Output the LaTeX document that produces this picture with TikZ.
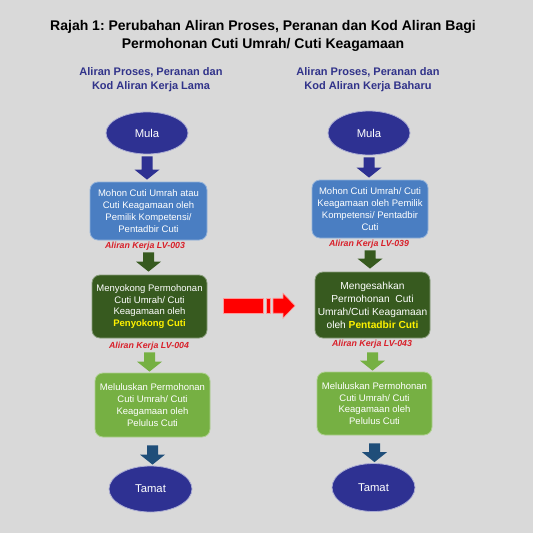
\documentclass[tikz,border=0pt]{standalone}
\usepackage{fontspec}
\setmainfont{Liberation Sans}
\usetikzlibrary{shapes.geometric,calc}
\frenchspacing
\definecolor{bg}{HTML}{D9D9D9}
\definecolor{navy}{HTML}{2E3192}
\definecolor{subblue}{HTML}{31338A}
\definecolor{boxblue}{HTML}{4A7EC2}
\definecolor{darkgreen}{HTML}{375A1F}
\definecolor{litegreen}{HTML}{76B043}
\definecolor{teal}{HTML}{1F4E79}
\definecolor{lblred}{HTML}{D8202A}
\tikzset{
  ov/.style={ellipse, fill=navy, draw=navy!40!white, line width=0.8pt, text=white, font=\fontsize{11.3}{13}\selectfont, inner sep=0pt},
  bx/.style={rounded corners=8pt, line width=0.8pt, text=white, align=center, inner sep=0pt, font=\fontsize{9.5}{11.8}\selectfont},
  lbl/.style={text=lblred, font=\fontsize{8.8}{10}\selectfont\bfseries\itshape, inner sep=0pt},
  sub/.style={text=subblue, align=center, font=\fontsize{11}{14}\selectfont\bfseries, inner sep=0pt},
}
\newcommand\barrow[5]{% color, from, to, startgap, endgap
  \fill[#1] let \p1=(#2.south), \p2=(#3.north) in
    (\x1-5.5pt,\y1-#4pt) -- (\x1+5.5pt,\y1-#4pt) -- (\x1+5.5pt,\y2+#5pt+10pt)
    -- (\x1+12.5pt,\y2+#5pt+10pt) -- (\x1,\y2+#5pt) -- (\x1-12.5pt,\y2+#5pt+10pt)
    -- (\x1-5.5pt,\y2+#5pt+10pt) -- cycle;}
\begin{document}
\begin{tikzpicture}[x=1pt,y=-1pt]
\fill[bg] (0,0) rectangle (533,533);
\useasboundingbox (0,0) rectangle (533,533);
\node[align=center, font=\fontsize{14}{18}\selectfont\bfseries, inner sep=0pt] (title) at (263,35.5)
  {Rajah 1: Perubahan Aliran Proses, Peranan dan Kod Aliran Bagi\\Permohonan Cuti Umrah/ Cuti Keagamaan};
\node[sub] (subL) at (151,80) {Aliran Proses, Peranan dan\\Kod Aliran Kerja Lama};
\node[sub] (subR) at (368,80) {Aliran Proses, Peranan dan\\Kod Aliran Kerja Baharu};
% left column
\node[ov, minimum width=82pt, minimum height=42pt] (mulaL) at (147,133) {Mula};
\node[bx, fill=boxblue, draw=boxblue!60!white, minimum width=117pt, minimum height=58pt] (b1L) at (148.5,211)
  {Mohon Cuti Umrah atau\\Cuti Keagamaan oleh\\Pemilik Kompetensi/\\Pentadbir Cuti};
\node[lbl] (l1L) at (145,246) {Aliran Kerja LV-003};
\node[bx, fill=darkgreen, draw=darkgreen!60!white, minimum width=115pt, minimum height=63pt] (b2L) at (149.5,306.5)
  {Menyokong Permohonan\\Cuti Umrah/ Cuti\\Keagamaan oleh\\\textcolor{yellow}{\bfseries Penyokong Cuti}};
\node[lbl] (l2L) at (149,346) {Aliran Kerja LV-004};
\node[bx, fill=litegreen, draw=litegreen!60!white, minimum width=115pt, minimum height=64pt] (b3L) at (152.5,405)
  {Meluluskan Permohonan\\Cuti Umrah/ Cuti\\Keagamaan oleh\\Pelulus Cuti};
\node[ov, minimum width=83pt, minimum height=46pt] (tamatL) at (150.5,489) {Tamat};
% right column
\node[ov, minimum width=82pt, minimum height=44pt] (mulaR) at (369,133) {Mula};
\node[bx, fill=boxblue, draw=boxblue!60!white, minimum width=116pt, minimum height=58pt] (b1R) at (370,209)
  {Mohon Cuti Umrah/ Cuti\\Keagamaan oleh Pemilik\\Kompetensi/ Pentadbir\\Cuti};
\node[lbl] (l1R) at (369,244) {Aliran Kerja LV-039};
\node[bx, fill=darkgreen, draw=darkgreen!60!white, minimum width=115pt, minimum height=66pt, font=\fontsize{10.2}{13}\selectfont] (b2R) at (372.5,305)
  {Mengesahkan\\Permohonan\ \ Cuti\\Umrah/Cuti Keagamaan\\oleh\ \textcolor{yellow}{\bfseries Pentadbir Cuti}};
\node[lbl] (l2R) at (372,344) {Aliran Kerja LV-043};
\node[bx, fill=litegreen, draw=litegreen!60!white, minimum width=115pt, minimum height=63pt] (b3R) at (374.5,403.5)
  {Meluluskan Permohonan\\Cuti Umrah/ Cuti\\Keagamaan oleh\\Pelulus Cuti};
\node[ov, minimum width=83pt, minimum height=48pt] (tamatR) at (373.5,487.5) {Tamat};
% block arrows
\barrow{navy}{mulaL}{b1L}{2}{2}
\barrow{darkgreen}{b1L}{b2L}{12}{3}
\barrow{litegreen}{b2L}{b3L}{14}{1}
\barrow{teal}{b3L}{tamatL}{8}{1}
\barrow{navy}{mulaR}{b1R}{2}{2}
\barrow{darkgreen}{b1R}{b2R}{12}{3}
\barrow{litegreen}{b2R}{b3R}{14}{1}
\barrow{teal}{b3R}{tamatR}{8}{1}
% red striped arrow
\coordinate (ra) at ($(b2L.east)!0.5!(b2R.west)$);
\begin{scope}[shift={(ra)}]
\fill[red, draw=red!40!white, line width=0.6pt] (-38,-7.5) rectangle (2,7.5);
\fill[red, draw=red!40!white, line width=0.6pt] (5,-7.5) rectangle (9,7.5);
\fill[red, draw=red!40!white, line width=0.6pt] (12,-7.5) -- (22,-7.5) -- (22,-12.5) -- (34,0) -- (22,12.5) -- (22,7.5) -- (12,7.5) -- cycle;
\end{scope}
\end{tikzpicture}
\end{document}
